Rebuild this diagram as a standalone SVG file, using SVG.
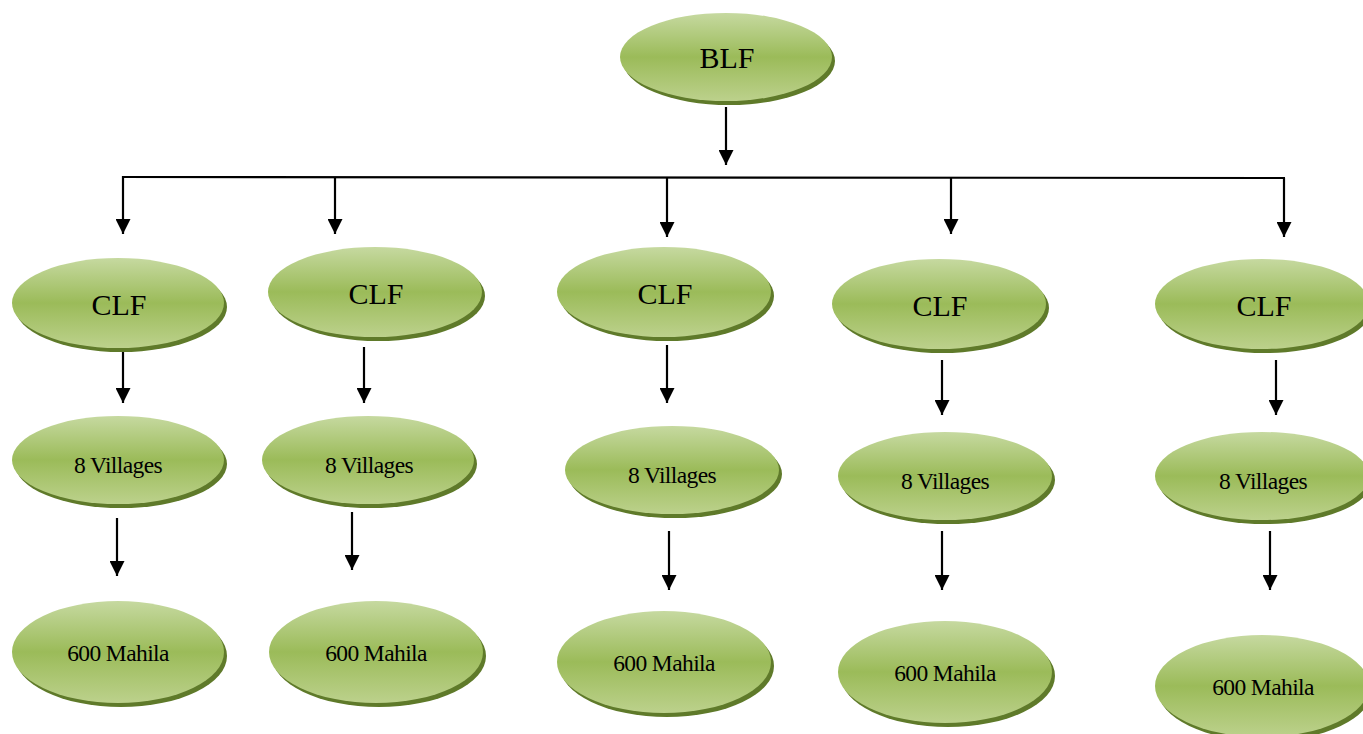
<svg xmlns="http://www.w3.org/2000/svg" width="1363" height="734" viewBox="0 0 1363 734">
<defs>
<linearGradient id="g" x1="0" y1="0" x2="0" y2="1">
<stop offset="0" stop-color="#c6d9a0"/>
<stop offset="0.5" stop-color="#9bbb59"/>
<stop offset="1" stop-color="#bcd18c"/>
</linearGradient>
<marker id="ah" viewBox="0 0 10 10" refX="10" refY="5" markerWidth="15" markerHeight="15" markerUnits="userSpaceOnUse" orient="auto">
<path d="M0,0 L10,5 L0,10 z" fill="#000"/>
</marker>
</defs>
<style>
.sh{fill:#5f7a2a}
.el{fill:url(#g)}
.t{font-family:"Liberation Serif","Times New Roman",serif;fill:#000;text-anchor:middle}
.big{font-size:30px}
.sm{font-size:23.5px;letter-spacing:-0.6px}
.c line{stroke:#000;stroke-width:2.2;fill:none}
.c .a{marker-end:url(#ah)}
</style>
<rect width="1363" height="734" fill="#fff"/>
<g class="c" id="connectors">
<line class="a" x1="726" y1="107" x2="726" y2="165"/>
<line x1="122" y1="177" x2="1285" y2="178"/>
<line class="a" x1="123" y1="176" x2="123" y2="234"/>
<line class="a" x1="335" y1="177" x2="335" y2="234"/>
<line class="a" x1="667" y1="177" x2="667" y2="237"/>
<line class="a" x1="951" y1="177" x2="951" y2="234"/>
<line class="a" x1="1284" y1="178" x2="1284" y2="237"/>
<line class="a" x1="123" y1="347" x2="123" y2="403"/>
<line class="a" x1="364" y1="347" x2="364" y2="403"/>
<line class="a" x1="667" y1="345" x2="667" y2="403"/>
<line class="a" x1="942" y1="360" x2="942" y2="415"/>
<line class="a" x1="1276" y1="360" x2="1276" y2="415"/>
<line class="a" x1="117" y1="518" x2="117" y2="576"/>
<line class="a" x1="352" y1="512" x2="352" y2="570"/>
<line class="a" x1="669" y1="531" x2="669" y2="590"/>
<line class="a" x1="942" y1="531" x2="942" y2="590"/>
<line class="a" x1="1270" y1="531" x2="1270" y2="590"/>
</g>
<g id="blf"><ellipse class="sh" cx="729" cy="61" rx="106" ry="44"/><ellipse class="el" cx="726" cy="57" rx="106" ry="44"/><text class="t big" x="727" y="68">BLF</text></g>
<g id="clf1"><ellipse class="sh" cx="121" cy="307" rx="106" ry="45"/><ellipse class="el" cx="118" cy="303" rx="106" ry="45"/><text class="t big" x="119" y="315">CLF</text></g>
<g id="clf2"><ellipse class="sh" cx="378" cy="296" rx="107" ry="45"/><ellipse class="el" cx="375" cy="292" rx="107" ry="45"/><text class="t big" x="376" y="304">CLF</text></g>
<g id="clf3"><ellipse class="sh" cx="667" cy="296" rx="107" ry="45"/><ellipse class="el" cx="664" cy="292" rx="107" ry="45"/><text class="t big" x="665" y="304">CLF</text></g>
<g id="clf4"><ellipse class="sh" cx="942" cy="308" rx="107" ry="45"/><ellipse class="el" cx="939" cy="304" rx="107" ry="45"/><text class="t big" x="940" y="316">CLF</text></g>
<g id="clf5"><ellipse class="sh" cx="1265" cy="308" rx="107" ry="45"/><ellipse class="el" cx="1262" cy="304" rx="107" ry="45"/><text class="t big" x="1264" y="316">CLF</text></g>
<g id="v1"><ellipse class="sh" cx="121" cy="464" rx="106" ry="44"/><ellipse class="el" cx="118" cy="460" rx="106" ry="44"/><text class="t sm" x="118" y="473">8 Villages</text></g>
<g id="v2"><ellipse class="sh" cx="371" cy="464" rx="106" ry="44"/><ellipse class="el" cx="368" cy="460" rx="106" ry="44"/><text class="t sm" x="369" y="473">8 Villages</text></g>
<g id="v3"><ellipse class="sh" cx="675" cy="474" rx="107" ry="44"/><ellipse class="el" cx="672" cy="470" rx="107" ry="44"/><text class="t sm" x="672" y="483">8 Villages</text></g>
<g id="v4"><ellipse class="sh" cx="948" cy="480" rx="107" ry="44"/><ellipse class="el" cx="945" cy="476" rx="107" ry="44"/><text class="t sm" x="945" y="489">8 Villages</text></g>
<g id="v5"><ellipse class="sh" cx="1265" cy="480" rx="107" ry="44"/><ellipse class="el" cx="1262" cy="476" rx="107" ry="44"/><text class="t sm" x="1263" y="489">8 Villages</text></g>
<g id="m1"><ellipse class="sh" cx="121" cy="656" rx="106" ry="51"/><ellipse class="el" cx="118" cy="652" rx="106" ry="51"/><text class="t sm" x="118" y="661">600 Mahila</text></g>
<g id="m2"><ellipse class="sh" cx="379" cy="656" rx="107" ry="51"/><ellipse class="el" cx="376" cy="652" rx="107" ry="51"/><text class="t sm" x="376" y="661">600 Mahila</text></g>
<g id="m3"><ellipse class="sh" cx="667" cy="666" rx="107" ry="51"/><ellipse class="el" cx="664" cy="662" rx="107" ry="51"/><text class="t sm" x="664" y="671">600 Mahila</text></g>
<g id="m4"><ellipse class="sh" cx="948" cy="676" rx="107" ry="51"/><ellipse class="el" cx="945" cy="672" rx="107" ry="51"/><text class="t sm" x="945" y="681">600 Mahila</text></g>
<g id="m5"><ellipse class="sh" cx="1265" cy="690" rx="107" ry="51"/><ellipse class="el" cx="1262" cy="686" rx="107" ry="51"/><text class="t sm" x="1263" y="695">600 Mahila</text></g>
</svg>
